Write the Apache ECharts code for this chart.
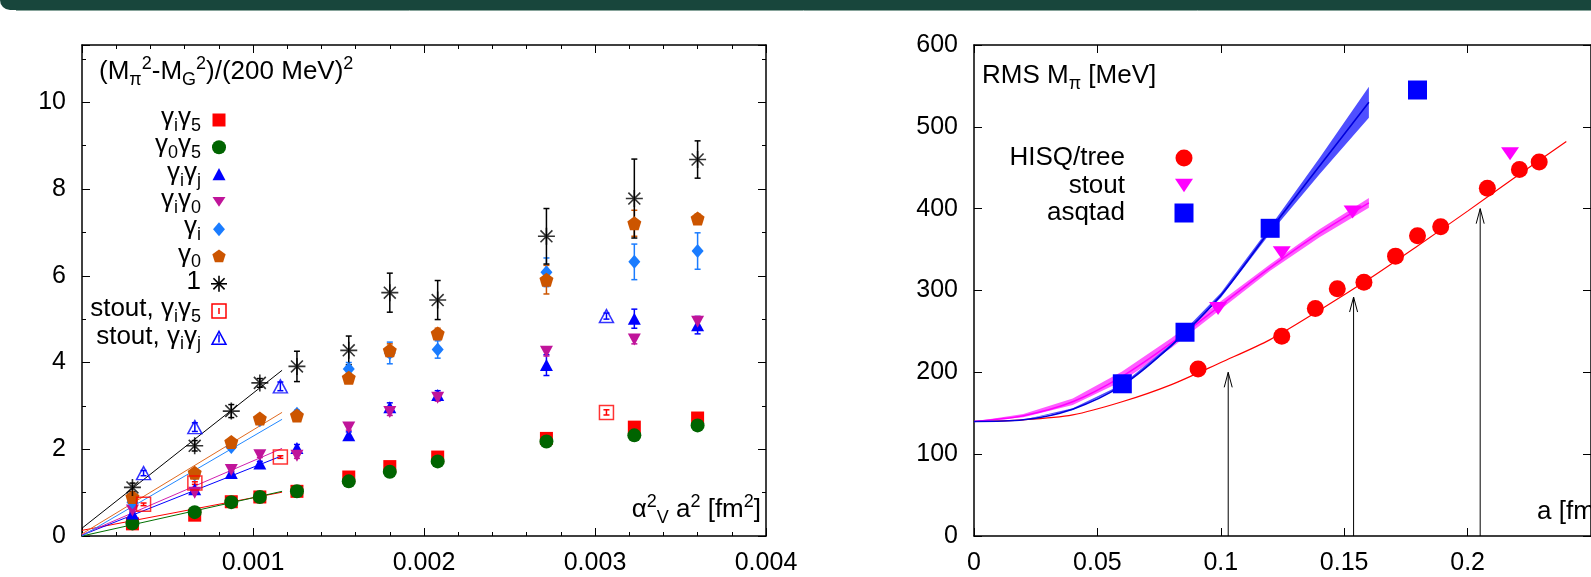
<!DOCTYPE html>
<html>
<head>
<meta charset="UTF-8">
<title></title>
<script type="text/javascript" src="https://cdn.jsdelivr.net/npm/echarts@6/dist/echarts.min.js"></script>
<style type="text/css">
* { padding: 0; margin: 0; }
#main { width: 1591px; height: 577px; background: #fff; }
</style>
</head>
<body>
<div id="main"></div>
<script type="text/javascript">
// ---- left panel: (Mpi^2 - MG^2)/(200 MeV)^2 against alpha_V^2 a^2 ----
var xEns = [0.000295, 0.000659, 0.000873, 0.00104, 0.001257, 0.00156, 0.0018, 0.00208, 0.002716, 0.00323, 0.0036];
var gi5 = [0.28, 0.48, 0.79, 0.90, 1.03, 1.36, 1.60, 1.82, 2.25, 2.51, 2.72];
var g05 = [0.29, 0.55, 0.78, 0.90, 1.03, 1.26, 1.48, 1.72, 2.18, 2.32, 2.55];
var gij = [0.52, 1.08, 1.45, 1.67, 2.03, 2.32, 2.97, 3.25, 3.94, 5.01, 4.86];
var gi0 = [0.59, 1.00, 1.52, 1.86, 1.85, 2.50, 2.86, 3.19, 4.25, 4.53, 4.94];
var gi = [0.78, 1.42, 2.05, 2.67, 2.82, 3.85, 4.22, 4.30, 6.08, 6.32, 6.57];
var g0 = [0.90, 1.46, 2.17, 2.71, 2.78, 3.65, 4.28, 4.67, 5.91, 7.21, 7.32];
var one = [1.12, 2.08, 2.88, 3.53, 3.91, 4.28, 5.61, 5.44, 6.91, 7.78, 8.68];
var gi5Err = [0.02, 0.02, 0.02, 0.02, 0.02, 0.02, 0.03, 0.03, 0.03, 0.03, 0.03];
var g05Err = [0.02, 0.02, 0.02, 0.02, 0.02, 0.02, 0.03, 0.03, 0.03, 0.03, 0.03];
var gijErr = [0.03, 0.03, 0.04, 0.05, 0.08, 0.08, 0.1, 0.1, 0.24, 0.22, 0.2];
var gi0Err = [0.03, 0.03, 0.04, 0.05, 0.06, 0.06, 0.08, 0.08, 0.1, 0.1, 0.12];
var giErr = [0.03, 0.04, 0.05, 0.06, 0.08, 0.15, 0.25, 0.2, 0.33, 0.41, 0.42];
var g0Err = [0.03, 0.04, 0.05, 0.06, 0.08, 0.1, 0.15, 0.12, 0.33, 0.3, 0.1];
var oneErr = [0.1, 0.12, 0.15, 0.1, 0.35, 0.33, 0.45, 0.45, 0.64, 0.91, 0.43];

var xStout = [0.00036, 0.00066, 0.00116, 0.003067];
var stGi5 = [0.73, 1.22, 1.82, 2.85];
var stGi5Err = [0.03, 0.03, 0.03, 0.06];
var stGij = [1.45, 2.51, 3.45, 5.07];
var stGijErr = [0.06, 0.1, 0.1, 0.07];

// linear fits, drawn from 0 to the end of the small-a range
var fitX = [0, 0.00117];
var fitOne = [0.18, 3.82];
var fitG0 = [0.05, 2.85];
var fitGi = [0.0, 2.69];
var fitGi0 = [0.03, 2.02];
var fitGij = [0.02, 1.85];
var fitGi5 = [0.13, 1.01];
var fitG05 = [0.0, 1.03];

var leftXTicks = [0, 0.004, 0.001];
var leftYTicks = [0, 11.32, 2];

// ---- right panel: RMS Mpi against a ----
var aHisq = [0.0908, 0.1247, 0.1383, 0.1472, 0.158, 0.1708, 0.1797, 0.1891, 0.208, 0.221, 0.229];
var mHisq = [204, 244, 278, 302, 310, 342, 367, 378, 425, 448, 457];
var aStout = [0.0989, 0.1247, 0.1534, 0.2172];
var mStout = [278, 346, 396, 467];
var aAsq = [0.0601, 0.0855, 0.12, 0.1797];
var mAsq = [186, 249, 376, 545];

var aCurve = [0, 0.02, 0.04, 0.06, 0.08, 0.1, 0.12, 0.14, 0.16];
var hisqCurveA = [0, 0.02, 0.04, 0.06, 0.08, 0.1, 0.12, 0.14, 0.16, 0.18, 0.2, 0.22, 0.24];
var hisqCurve = [140, 142, 148, 164, 185, 212, 240, 276, 314, 355, 397, 440, 482];
var stoutCurve = [140, 147, 164, 195, 236, 282, 328, 370, 407];
var stoutBand = [0, 2, 4, 6, 6, 5, 4, 5, 6];
var asqCurve = [140, 142, 155, 184, 233, 294, 374, 452, 530];
var asqBand = [0, 0, 1, 1, 2, 3, 4, 10, 19];

var arrowA = [0.103, 0.1538, 0.2051];
var arrowTop = [200, 292, 400];

var rightXTicks = [0, 0.25, 0.05];
var rightYTicks = [0, 600, 100];

var FONT = '"Liberation Sans", Arial, sans-serif';

function pairs(xs, ys) {
	return xs.map(function(x, i) { return [x, ys[i]]; });
}

function errBars(xs, ys, es, color, g) {
	return {
		type: 'custom', xAxisIndex: g * 2, yAxisIndex: g * 2, z: 3, silent: true,
		data: xs.map(function(x, i) { return [x, ys[i], es[i]]; }),
		renderItem: function(params, api) {
			var x = api.value(0), y = api.value(1), e = api.value(2);
			var lo = api.coord([x, y - e]), hi = api.coord([x, y + e]);
			var st = { stroke: color, lineWidth: 1.5 };
			return {
				type: 'group', children: [
					{ type: 'line', shape: { x1: lo[0], y1: lo[1], x2: hi[0], y2: hi[1] }, style: st },
					{ type: 'line', shape: { x1: lo[0] - 3, y1: lo[1], x2: lo[0] + 3, y2: lo[1] }, style: st },
					{ type: 'line', shape: { x1: hi[0] - 3, y1: hi[1], x2: hi[0] + 3, y2: hi[1] }, style: st }
				]
			};
		}
	};
}

function band(xs, mid, half, color) {
	var data = xs.map(function(x, i) { return [x, mid[i] - half[i], mid[i] + half[i]]; });
	return {
		type: 'custom', xAxisIndex: 2, yAxisIndex: 2, z: 2, silent: true,
		data: data,
		renderItem: function(params, api) {
			if (params.dataIndex !== 0) return null;
			var pts = [];
			data.forEach(function(d) { pts.push(api.coord([d[0], d[2]])); });
			data.slice().reverse().forEach(function(d) { pts.push(api.coord([d[0], d[1]])); });
			return { type: 'polygon', shape: { points: pts }, style: { fill: color } };
		}
	};
}

var PENT = 'path://M50,0L97.6,34.5L79.4,90.5L20.6,90.5L2.4,34.5Z';
var STAR = 'path://M0,50L100,50M50,0L50,100M15,15L85,85M85,15L15,85';

function scat(xs, ys, sym, size, color, extra, g) {
	var s = {
		type: 'scatter', xAxisIndex: (g || 0) * 2, yAxisIndex: (g || 0) * 2, z: 4, silent: true,
		symbol: sym, symbolSize: size, data: pairs(xs, ys),
		itemStyle: { color: color, opacity: 1 }
	};
	for (var k in extra) s[k] = extra[k];
	return s;
}

function fitLine(xs, ys, color, g, w, smooth) {
	return {
		type: 'line', xAxisIndex: g * 2, yAxisIndex: g * 2, z: 2, silent: true,
		data: pairs(xs, ys), showSymbol: false, symbol: 'none',
		smooth: smooth || false,
		lineStyle: { color: color, width: w || 1 }
	};
}

var series = [
	fitLine(fitX, fitGi5, '#ff0000', 0),
	fitLine(fitX, fitG05, '#007000', 0),
	fitLine(fitX, fitGij, '#0000ff', 0),
	fitLine(fitX, fitGi0, '#d020b0', 0),
	fitLine(fitX, fitGi, '#2288ff', 0),
	fitLine(fitX, fitG0, '#e06a20', 0),
	fitLine(fitX, fitOne, '#000000', 0),

	errBars(xEns, gi5, gi5Err, '#ff0000', 0),
	errBars(xEns, g05, g05Err, '#006400', 0),
	errBars(xEns, gij, gijErr, '#0000ff', 0),
	errBars(xEns, gi0, gi0Err, '#c0149a', 0),
	errBars(xEns, gi, giErr, '#1a7cff', 0),
	errBars(xEns, g0, g0Err, '#cc5500', 0),
	errBars(xEns, one, oneErr, '#000000', 0),
	errBars(xStout, stGi5, stGi5Err, '#ff0000', 0),
	errBars(xStout, stGij, stGijErr, '#0000ff', 0),

	scat(xEns, gi5, 'rect', 13, '#ff0000'),
	scat(xEns, g05, 'circle', 14, '#006400'),
	scat(xEns, gij, 'triangle', [13, 12], '#0000ff'),
	scat(xEns, gi0, 'triangle', [13, 12], '#c0149a', { symbolRotate: 180 }),
	scat(xEns, gi, 'diamond', [12, 14], '#1a7cff'),
	scat(xEns, g0, PENT, 14, '#cc5500'),
	scat(xEns, one, STAR, 17, '#000000', { itemStyle: { color: '#000', borderColor: '#000', borderWidth: 1.6 } }),
	scat(xStout, stGi5, 'rect', 14, '#ff0000', { itemStyle: { color: 'rgba(0,0,0,0)', borderColor: '#ff0000', borderWidth: 1.5 } }),
	scat(xStout, stGij, 'triangle', [14, 13], '#0000ff', { itemStyle: { color: 'rgba(0,0,0,0)', borderColor: '#0000ff', borderWidth: 1.5 } }),

	band(aCurve, stoutCurve, stoutBand, '#ff5cff'),
	band(aCurve, asqCurve, asqBand, '#4f4fff'),
	fitLine(hisqCurveA, hisqCurve, '#ff0000', 1, 1.2, 0.3),
	fitLine(aCurve, stoutCurve, '#ff00ff', 1, 1.5, 0.3),
	fitLine(aCurve, asqCurve, '#0000dd', 1, 1.6, 0.3),
	{
		type: 'custom', xAxisIndex: 2, yAxisIndex: 2, z: 3, silent: true,
		data: arrowA.map(function(a, i) { return [a, arrowTop[i]]; }),
		renderItem: function(params, api) {
			var a = api.value(0);
			var b = api.coord([a, 0]), t = api.coord([a, api.value(1)]);
			var st = { stroke: '#000', lineWidth: 1, fill: 'none' };
			return {
				type: 'group', children: [
					{ type: 'line', shape: { x1: b[0], y1: b[1], x2: t[0], y2: t[1] }, style: st },
					{ type: 'polyline', shape: { points: [[t[0] - 4, t[1] + 15], [t[0], t[1]], [t[0] + 4, t[1] + 15]] }, style: st }
				]
			};
		}
	},
	scat(aHisq, mHisq, 'circle', 17, '#ff0000', {}, 1),
	scat(aStout, mStout, 'triangle', [18, 13], '#ff00ff', { symbolRotate: 180 }, 1),
	scat(aAsq, mAsq, 'rect', 19, '#0000ff', {}, 1)
];

function valAxis(grid, pos, t, showLabel, minor, extra) {
	var ax = {
		type: 'value', gridIndex: grid, position: pos, min: t[0], max: t[1], interval: t[2],
		axisLine: { show: true, onZero: false, lineStyle: { color: '#000', width: 1.5 } },
		axisTick: { show: true, inside: true, length: 8, lineStyle: { color: '#000', width: 1 } },
		minorTick: { show: minor > 0, splitNumber: minor || 5, length: 4, lineStyle: { color: '#000', width: 1 } },
		splitLine: { show: false },
		axisLabel: { show: showLabel, color: '#000', fontSize: 25, fontFamily: FONT, margin: 16, showMaxLabel: false }
	};
	for (var k in extra) ax[k] = extra[k];
	return ax;
}

var leftXLabel = { show: true, color: '#000', fontSize: 25, fontFamily: FONT, margin: 15,
	formatter: function(v) { return v === 0 ? '' : String(+v.toFixed(4)); } };
var rightXLabel = { show: true, color: '#000', fontSize: 25, fontFamily: FONT, margin: 15, showMaxLabel: false,
	formatter: function(v) { return String(+v.toFixed(3)); } };

var xAxes = [
	valAxis(0, 'bottom', leftXTicks, true, 5, { axisLabel: leftXLabel }),
	valAxis(0, 'top', leftXTicks, false, 5),
	valAxis(1, 'bottom', rightXTicks, true, 0, { axisLabel: rightXLabel }),
	valAxis(1, 'top', rightXTicks, false, 0)
];
var yAxes = [
	valAxis(0, 'left', leftYTicks, true, 2),
	valAxis(0, 'right', leftYTicks, false, 2),
	valAxis(1, 'left', rightYTicks, true, 0),
	valAxis(1, 'right', rightYTicks, false, 0)
];
// the mirrored axes only carry ticks; the right panel shows its 600 label
xAxes[1].axisLabel.show = false; yAxes[1].axisLabel.show = false;
xAxes[3].axisLabel.show = false; yAxes[3].axisLabel.show = false;
yAxes[2].axisLabel.showMaxLabel = true;

var rich = {
	n: { fontSize: 26, fontFamily: FONT, color: '#000', lineHeight: 34, verticalAlign: 'middle' },
	b: { fontSize: 18, fontFamily: FONT, color: '#000', lineHeight: 10, verticalAlign: 'bottom' },
	t: { fontSize: 18, fontFamily: FONT, color: '#000', lineHeight: 22, verticalAlign: 'top' }
};

function label(text, x, y, align) {
	return {
		type: 'text', x: x, y: y, silent: true,
		style: { text: text, rich: rich, align: align, verticalAlign: 'middle', fill: '#000', font: '26px ' + FONT }
	};
}

function mark(kind, cx, cy, s, color) {
	var h = s / 2;
	var fill = { fill: color };
	var open = { fill: 'none', stroke: color, lineWidth: 1.5 };
	switch (kind) {
		case 'rect': return { type: 'rect', shape: { x: cx - h, y: cy - h, width: s, height: s }, style: fill };
		case 'circle': return { type: 'circle', shape: { cx: cx, cy: cy, r: h }, style: fill };
		case 'tri': return { type: 'polygon', shape: { points: [[cx, cy - h], [cx + h, cy + h * 0.85], [cx - h, cy + h * 0.85]] }, style: fill };
		case 'itri': return { type: 'polygon', shape: { points: [[cx - h, cy - h * 0.75], [cx + h, cy - h * 0.75], [cx, cy + h * 0.75]] }, style: fill };
		case 'diamond': return { type: 'polygon', shape: { points: [[cx, cy - h], [cx + h * 0.85, cy], [cx, cy + h], [cx - h * 0.85, cy]] }, style: fill };
		case 'pent': return { type: 'polygon', shape: { points: [[cx, cy - h], [cx + h * 0.95, cy - h * 0.31], [cx + h * 0.59, cy + h * 0.81], [cx - h * 0.59, cy + h * 0.81], [cx - h * 0.95, cy - h * 0.31]] }, style: fill };
		case 'star': return { type: 'group', children: [
			{ type: 'line', shape: { x1: cx - h, y1: cy, x2: cx + h, y2: cy }, style: { stroke: color, lineWidth: 1.6 } },
			{ type: 'line', shape: { x1: cx, y1: cy - h, x2: cx, y2: cy + h }, style: { stroke: color, lineWidth: 1.6 } },
			{ type: 'line', shape: { x1: cx - h * 0.7, y1: cy - h * 0.7, x2: cx + h * 0.7, y2: cy + h * 0.7 }, style: { stroke: color, lineWidth: 1.6 } },
			{ type: 'line', shape: { x1: cx + h * 0.7, y1: cy - h * 0.7, x2: cx - h * 0.7, y2: cy + h * 0.7 }, style: { stroke: color, lineWidth: 1.6 } }
		] };
		case 'orect': return { type: 'group', children: [
			{ type: 'rect', shape: { x: cx - h, y: cy - h, width: s, height: s }, style: open },
			{ type: 'line', shape: { x1: cx, y1: cy - 3, x2: cx, y2: cy + 3 }, style: { stroke: color, lineWidth: 1.5 } }
		] };
		case 'otri': return { type: 'group', children: [
			{ type: 'polygon', shape: { points: [[cx, cy - h], [cx + h, cy + h * 0.85], [cx - h, cy + h * 0.85]] }, style: open },
			{ type: 'line', shape: { x1: cx, y1: cy - 4, x2: cx, y2: cy + 4 }, style: { stroke: color, lineWidth: 1.5 } }
		] };
	}
}

var leftLegend = [
	['{n|γ}{b|i}{n|γ}{b|5}', 'rect', 13, '#ff0000'],
	['{n|γ}{b|0}{n|γ}{b|5}', 'circle', 14, '#006400'],
	['{n|γ}{b|i}{n|γ}{b|j}', 'tri', 13, '#0000ff'],
	['{n|γ}{b|i}{n|γ}{b|0}', 'itri', 13, '#c0149a'],
	['{n|γ}{b|i}', 'diamond', 14, '#1a7cff'],
	['{n|γ}{b|0}', 'pent', 14, '#cc5500'],
	['{n|1}', 'star', 16, '#000000'],
	['{n|stout, γ}{b|i}{n|γ}{b|5}', 'orect', 14, '#ff0000'],
	['{n|stout, γ}{b|i}{n|γ}{b|j}', 'otri', 14, '#0000ff']
];
var rightLegend = [
	['{n|HISQ/tree}', 'circle', 17, '#ff0000'],
	['{n|stout}', 'itri', 18, '#ff00ff'],
	['{n|asqtad}', 'rect', 19, '#0000ff']
];

var graphic = [
	{ type: 'rect', shape: { x: 0, y: 0, width: 1591, height: 10, r: [0, 0, 0, 10] }, style: { fill: '#18463c' }, silent: true },
	{ type: 'line', shape: { x1: 16, y1: 10.5, x2: 1591, y2: 10.5 }, style: { stroke: '#86a39a', lineWidth: 1 }, silent: true },
	label('{n|(M}{b|π}{t|2}{n|-M}{b|G}{t|2}{n|)/(200 MeV)}{t|2}', 99, 72, 'left'),
	label('{n|α}{t|2}{b|V}{n| a}{t|2}{n| [fm}{t|2}{n|]}', 761, 510, 'right'),
	label('{n|RMS M}{b|π}{n| [MeV]}', 982, 76, 'left'),
	label('{n|a [fm]}', 1537, 512, 'left')
];
leftLegend.forEach(function(l, i) {
	var y = 120 + i * 27.3;
	graphic.push(label(l[0], 201, y - 2, 'right'));
	graphic.push(mark(l[1], 219, y, l[2], l[3]));
});
rightLegend.forEach(function(l, i) {
	var y = 158 + i * 27.5;
	graphic.push(label(l[0], 1125, y, 'right'));
	graphic.push(mark(l[1], 1184, y, l[2], l[3]));
});

var myChart = echarts.init(document.getElementById('main'));
myChart.setOption({
	animation: false,
	backgroundColor: '#fff',
	grid: [
		{ left: 82, top: 45, width: 684, height: 491 },
		{ left: 974, top: 45, width: 672, height: 491 }
	],
	xAxis: xAxes,
	yAxis: yAxes,
	graphic: graphic,
	series: series
});
</script>
</body>
</html>
